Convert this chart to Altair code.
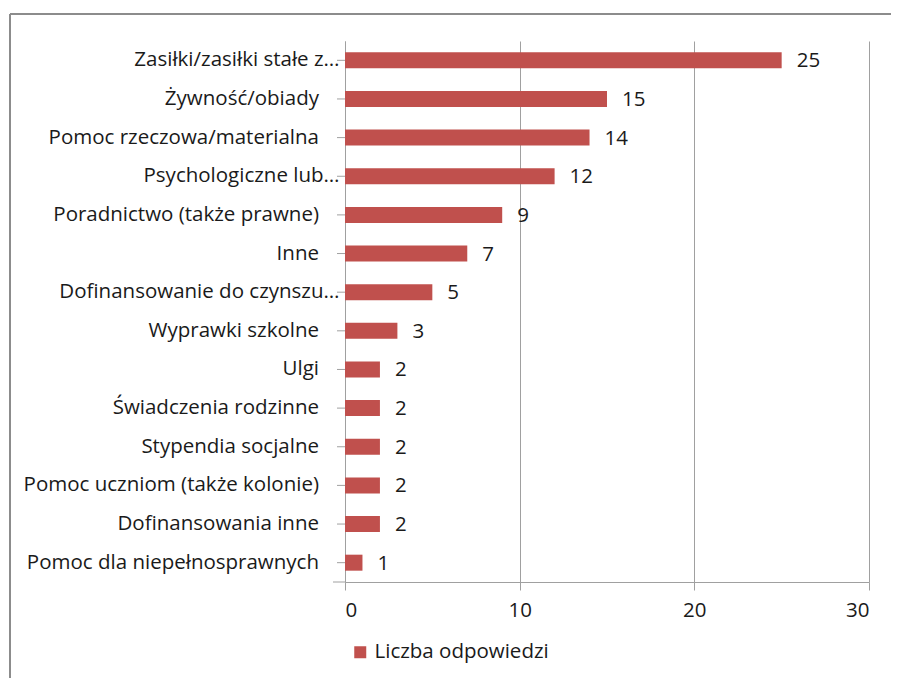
import altair as alt
import pandas as pd

categories = [
    "Zasiłki/zasiłki stałe z…",
    "Żywność/obiady",
    "Pomoc rzeczowa/materialna",
    "Psychologiczne lub…",
    "Poradnictwo (także prawne)",
    "Inne",
    "Dofinansowanie do czynszu…",
    "Wyprawki szkolne",
    "Ulgi",
    "Świadczenia rodzinne",
    "Stypendia socjalne",
    "Pomoc uczniom (także kolonie)",
    "Dofinansowania inne",
    "Pomoc dla niepełnosprawnych",
]
values = [25, 15, 14, 12, 9, 7, 5, 3, 2, 2, 2, 2, 2, 1]
series_name = "Liczba odpowiedzi"
x_ticks = [0, 10, 20, 30]

FONT = "Open Sans"
FS = 20.5
W, H = 524, 541
GREY = "#a0a0a0"
TXT = "#1a1a1a"

df = pd.DataFrame({"cat": categories, "val": values})

y_enc = alt.Y(
    "cat:N",
    sort=categories,
    scale=alt.Scale(paddingInner=0, paddingOuter=0),
    axis=alt.Axis(
        title=None,
        ticks=False,
        domainColor=GREY,
        domainWidth=1,
        labelFontSize=FS,
        labelFont=FONT,
        labelColor=TXT,
        labelPadding=6,
        labelLimit=400,
        labelExpr="indexof(datum.label, '…') >= 0 ? datum.label : datum.label + '\u2003\u200b'",
    ),
)
x_scale = alt.Scale(domain=[0, 30], nice=False)

base = alt.Chart(df)

bars = base.transform_calculate(series=f"'{series_name}'").mark_bar(size=16).encode(
    x=alt.X(
        "val:Q",
        scale=x_scale,
        axis=alt.Axis(
            title=None,
            values=x_ticks,
            grid=True,
            gridColor=GREY,
            gridWidth=1,
            domainColor=GREY,
            tickColor=GREY,
            tickSize=8,
            labelFontSize=FS,
            labelFont=FONT,
            labelColor=TXT,
            labelPadding=10,
        ),
    ),
    y=y_enc,
    color=alt.Color(
        "series:N",
        scale=alt.Scale(domain=[series_name], range=["#c0504d"]),
        legend=alt.Legend(
            title=None,
            orient="none",
            legendX=5,
            legendY=601,
            symbolType="square",
            symbolSize=144,
            symbolStrokeWidth=0,
            labelFontSize=FS,
            labelFont=FONT,
            labelColor=TXT,
            labelOffset=4,
            labelLimit=400,
        ),
    ),
)

labels = base.mark_text(align="left", baseline="middle", dx=15, dy=1, fontSize=FS, font=FONT, color=TXT).encode(
    x=alt.X("val:Q", scale=x_scale),
    y=y_enc,
    text="val:Q",
)

yticks = base.mark_rule(color=GREY, strokeWidth=1).encode(
    y=y_enc,
    x=alt.value(-8),
    x2=alt.value(0),
)

one = alt.Data(values=[{}])
xdomain_ext = alt.Chart(one).mark_rule(color=GREY, strokeWidth=1).encode(
    x=alt.value(-12), x2=alt.value(0), y=alt.value(H)
)
frame_top = alt.Chart(one).mark_rule(color="#8c8c8c", strokeWidth=2).encode(
    x=alt.value(-335), x2=alt.value(600), y=alt.value(-27)
)
frame_left = alt.Chart(one).mark_rule(color="#8c8c8c", strokeWidth=2).encode(
    x=alt.value(-335), y=alt.value(-27), y2=alt.value(700)
)

chart = (
    alt.layer(frame_top, frame_left, bars, yticks, xdomain_ext, labels)
    .properties(
        width=W,
        height=H,
        autosize=alt.AutoSizeParams(type="none"),
        padding={"left": 337, "top": 33, "right": 22, "bottom": 96},
        background="white",
    )
    .configure_view(stroke=None)
)

chart.save("out.html", embed_options={"renderer": "svg", "actions": False})
